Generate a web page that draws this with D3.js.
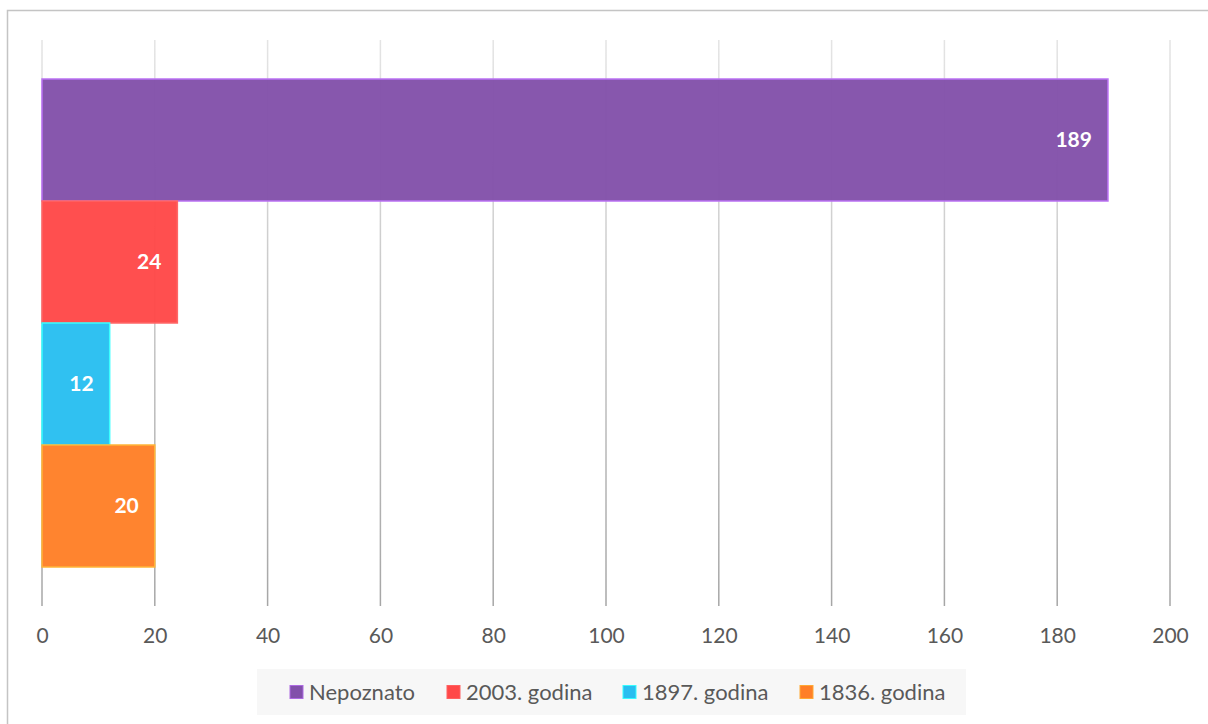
<!DOCTYPE html>
<html>
<head>
<meta charset="utf-8">
<script src="https://cdn.jsdelivr.net/npm/d3@7"></script>
<style>
  body { margin: 0; background: #fff; }
  svg { display: block; font-family: Lato, "Open Sans", sans-serif; }
</style>
</head>
<body>
<svg id="chart" width="1208" height="724"></svg>
<script>
const series = ['Nepoznato', '2003. godina', '1897. godina', '1836. godina'];
const values = [189, 24, 12, 20];
const colors = ['#8250AA', '#FF4848', '#28BEF0', '#FF7F27'];
const ticks = [0, 20, 40, 60, 80, 100, 120, 140, 160, 180, 200];

const svg = d3.select('#chart');

// chart frame
svg.append('rect')
  .attr('x', 7.5).attr('y', 10.5)
  .attr('width', 1210).attr('height', 720)
  .attr('fill', '#fff')
  .attr('stroke', '#c4c4c4')
  .attr('stroke-width', 1.5);

const x = d3.scaleLinear().domain([0, 200]).range([42, 1170]);
const y = d3.scaleBand().domain(series).range([79, 567]).padding(0);
const gridTop = 40, gridBottom = 606;

const defs = svg.append('defs');
const grad = defs.append('linearGradient')
  .attr('id', 'gridGrad')
  .attr('gradientUnits', 'userSpaceOnUse')
  .attr('x1', 0).attr('y1', gridTop).attr('x2', 0).attr('y2', gridBottom);
grad.append('stop').attr('offset', '0%').attr('stop-color', '#e4e4e4');
grad.append('stop').attr('offset', '100%').attr('stop-color', '#a6a6a6');

// vertical gridlines
svg.append('g')
  .selectAll('rect')
  .data(ticks)
  .join('rect')
  .attr('x', d => x(d) - 0.75)
  .attr('y', gridTop)
  .attr('width', 1.5)
  .attr('height', gridBottom - gridTop)
  .attr('fill', 'url(#gridGrad)');

// bars
svg.append('g')
  .selectAll('rect')
  .data(series)
  .join('rect')
  .attr('x', x(0))
  .attr('y', d => y(d))
  .attr('width', (d, i) => x(values[i]) - x(0))
  .attr('height', y.bandwidth())
  .attr('fill', (d, i) => colors[i])
  .attr('fill-opacity', 0.96)
  .attr('stroke', (d, i) => d3.color(colors[i]).brighter(1.0))
  .attr('stroke-width', 1.5);

// value labels
svg.append('g')
  .selectAll('text')
  .data(series)
  .join('text')
  .attr('x', (d, i) => x(values[i]) - 16)
  .attr('y', d => y(d) + y.bandwidth() / 2)
  .attr('dy', '0.35em')
  .attr('text-anchor', 'end')
  .attr('fill', '#fff')
  .attr('font-weight', 'bold')
  .attr('font-size', 21)
  .text((d, i) => values[i]);

// x axis tick labels
const axis = svg.append('g')
  .attr('transform', 'translate(0,' + gridBottom + ')')
  .call(d3.axisBottom(x).tickValues(ticks).tickSize(0).tickPadding(22));
axis.select('.domain').remove();
axis.selectAll('text')
  .attr('fill', '#595959')
  .attr('font-size', 21)
  .attr('font-family', 'Lato, "Open Sans", sans-serif');

// legend
const legend = svg.append('g');
legend.append('rect')
  .attr('x', 257).attr('y', 669)
  .attr('width', 709).attr('height', 46)
  .attr('fill', '#f7f7f7');

const legendX = [290, 447, 623, 800];
const item = legend.selectAll('g.item')
  .data(series)
  .join('g')
  .attr('class', 'item')
  .attr('transform', (d, i) => 'translate(' + legendX[i] + ',692)');
item.append('rect')
  .attr('x', 0).attr('y', -6.5)
  .attr('width', 13).attr('height', 13)
  .attr('fill', (d, i) => colors[i])
  .attr('stroke', (d, i) => d3.color(colors[i]).brighter(0.8))
  .attr('stroke-width', 1);
item.append('text')
  .attr('x', 19)
  .attr('dy', '0.35em')
  .attr('fill', '#595959')
  .attr('font-size', 22)
  .text(d => d);
</script>
</body>
</html>
